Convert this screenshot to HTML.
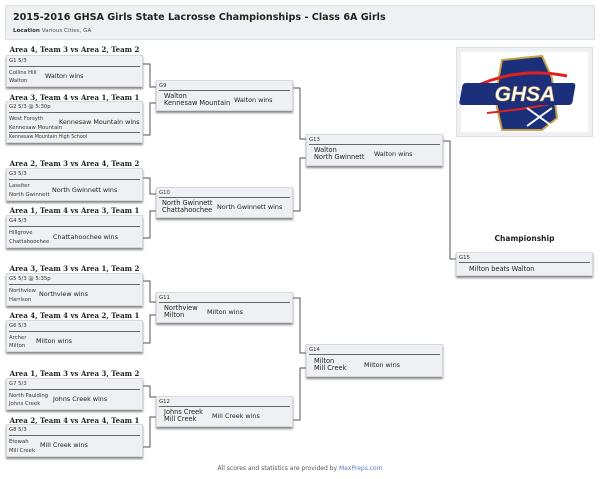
<!DOCTYPE html>
<html><head><meta charset="utf-8"><style>
*{margin:0;padding:0;box-sizing:border-box}
body{width:600px;height:479px;background:#fff;font-family:"DejaVu Sans","Liberation Sans",sans-serif;position:relative;overflow:hidden;color:#111}
.hdr{position:absolute;left:5px;top:5px;width:590px;height:35px;background:#eef0f3;border:1px solid #dde0e4}
.hdr h1{position:absolute;left:7px;top:6px;font-size:9.6px;font-weight:bold;color:#222;white-space:nowrap}
.hdr p{position:absolute;left:7px;top:22px;font-size:5.6px;color:#555}
.hdr p b{color:#333}
.hd{position:absolute;width:137px;text-align:center;font-family:"DejaVu Serif","Liberation Serif",serif;font-weight:bold;font-size:7px;color:#222;white-space:nowrap}
.b{position:absolute;width:137px;background:#eef0f3;border:1px solid #d6d9de;box-shadow:0 2px 2px #888}
.lb{position:absolute;left:2px;top:2px;font-size:5.3px;color:#333}
.sep{position:absolute;left:2px;right:2px;height:1px;background:#666}
.t{position:absolute;left:2px;font-size:5.3px;color:#333;white-space:nowrap}
.w{position:absolute;font-size:6.4px;color:#222;white-space:nowrap}
.t2{position:absolute;left:7px;font-size:6.6px;line-height:7px;color:#222;white-space:nowrap}
svg{position:absolute;left:0;top:0}
</style></head><body>
<div class="hdr"><h1>2015-2016 GHSA Girls State Lacrosse Championships - Class 6A Girls</h1><p><b>Location</b> Various Cities, GA</p></div>

<svg width="600" height="479"><g fill="none" stroke="#555" stroke-width="1">
<path d="M143 64H150V87H156"/><path d="M143 135H150V103H156"/>
<path d="M143 178H150V194H156"/><path d="M143 238H150V211H156"/>
<path d="M143 281H150V302H156"/><path d="M143 343H150V315H156"/>
<path d="M143 386H150V397H156"/><path d="M143 447H150V417H156"/>
<path d="M293 88H300V139H306"/><path d="M293 211H300V158H306"/>
<path d="M293 298H300V353H306"/><path d="M293 420H300V368H306"/>
<path d="M443 141H450V259H456"/>
</g></svg>

<div class="hd" style="left:6px;top:45px">Area 4, Team 3 vs Area 2, Team 2</div>
<div class="b" style="left:6px;top:55px;height:32px"><div class="lb">G1 5/3</div><div class="sep" style="top:10px"></div><div class="t" style="top:14px">Collins Hill</div><div class="t" style="top:22px">Walton</div><div class="w" style="left:38px;top:16px">Walton wins</div></div>

<div class="hd" style="left:6px;top:93px">Area 3, Team 4 vs Area 1, Team 1</div>
<div class="b" style="left:6px;top:101px;height:42px"><div class="lb">G2 5/3 @ 5:30p</div><div class="sep" style="top:10px"></div><div class="t" style="top:14px">West Forsyth</div><div class="t" style="top:23px">Kennesaw Mountain</div><div class="w" style="left:52px;top:16px">Kennesaw Mountain wins</div><div class="sep" style="top:30px"></div><div class="t" style="top:33px;font-size:4.8px">Kennesaw Mountain High School</div></div>

<div class="hd" style="left:6px;top:159px">Area 2, Team 3 vs Area 4, Team 2</div>
<div class="b" style="left:6px;top:168px;height:33px"><div class="lb">G3 5/3</div><div class="sep" style="top:10px"></div><div class="t" style="top:14px">Lassiter</div><div class="t" style="top:23px">North Gwinnett</div><div class="w" style="left:45px;top:17px">North Gwinnett wins</div></div>

<div class="hd" style="left:6px;top:206px">Area 1, Team 4 vs Area 3, Team 1</div>
<div class="b" style="left:6px;top:215px;height:33px"><div class="lb">G4 5/3</div><div class="sep" style="top:10px"></div><div class="t" style="top:14px">Hillgrove</div><div class="t" style="top:23px">Chattahoochee</div><div class="w" style="left:46px;top:17px">Chattahoochee wins</div></div>

<div class="hd" style="left:6px;top:264px">Area 3, Team 3 vs Area 1, Team 2</div>
<div class="b" style="left:6px;top:273px;height:33px"><div class="lb">G5 5/3 @ 5:35p</div><div class="sep" style="top:10px"></div><div class="t" style="top:14px">Northview</div><div class="t" style="top:23px">Harrison</div><div class="w" style="left:32px;top:16px">Northview wins</div></div>

<div class="hd" style="left:6px;top:311px">Area 4, Team 4 vs Area 2, Team 1</div>
<div class="b" style="left:6px;top:320px;height:32px"><div class="lb">G6 5/3</div><div class="sep" style="top:10px"></div><div class="t" style="top:14px">Archer</div><div class="t" style="top:22px">Milton</div><div class="w" style="left:29px;top:16px">Milton wins</div></div>

<div class="hd" style="left:6px;top:369px">Area 1, Team 3 vs Area 3, Team 2</div>
<div class="b" style="left:6px;top:378px;height:32px"><div class="lb">G7 5/3</div><div class="sep" style="top:10px"></div><div class="t" style="top:14px">North Paulding</div><div class="t" style="top:22px">Johns Creek</div><div class="w" style="left:46px;top:16px">Johns Creek wins</div></div>

<div class="hd" style="left:6px;top:416px">Area 2, Team 4 vs Area 4, Team 1</div>
<div class="b" style="left:6px;top:424px;height:33px"><div class="lb">G8 5/3</div><div class="sep" style="top:10px"></div><div class="t" style="top:14px">Etowah</div><div class="t" style="top:23px">Mill Creek</div><div class="w" style="left:33px;top:16px">Mill Creek wins</div></div>

<div class="b" style="left:156px;top:80px;height:31px"><div class="lb">G9</div><div class="sep" style="top:9px"></div><div class="t2" style="top:12px">Walton<br>Kennesaw Mountain</div><div class="w" style="left:77px;top:15px">Walton wins</div></div>
<div class="b" style="left:156px;top:187px;height:31px"><div class="lb">G10</div><div class="sep" style="top:9px"></div><div class="t2" style="top:12px;left:5px">North Gwinnett<br>Chattahoochee</div><div class="w" style="left:60px;top:15px">North Gwinnett wins</div></div>
<div class="b" style="left:156px;top:292px;height:31px"><div class="lb">G11</div><div class="sep" style="top:9px"></div><div class="t2" style="top:12px">Northview<br>Milton</div><div class="w" style="left:50px;top:15px">Milton wins</div></div>
<div class="b" style="left:156px;top:396px;height:31px"><div class="lb">G12</div><div class="sep" style="top:9px"></div><div class="t2" style="top:12px">Johns Creek<br>Mill Creek</div><div class="w" style="left:55px;top:15px">Mill Creek wins</div></div>

<div class="b" style="left:306px;top:134px;height:32px"><div class="lb">G13</div><div class="sep" style="top:9px"></div><div class="t2" style="top:12px">Walton<br>North Gwinnett</div><div class="w" style="left:67px;top:15px">Walton wins</div></div>
<div class="b" style="left:306px;top:344px;height:33px"><div class="lb">G14</div><div class="sep" style="top:9px"></div><div class="t2" style="top:13px">Milton<br>Mill Creek</div><div class="w" style="left:57px;top:16px">Milton wins</div></div>

<div class="hd" style="left:456px;top:234px;font-family:'DejaVu Sans',sans-serif;font-size:7.5px">Championship</div>
<div class="b" style="left:456px;top:252px;height:24px"><div class="lb">G15</div><div class="sep" style="top:9px"></div><div class="w" style="left:12px;top:12px;font-size:6.6px">Milton beats Walton</div></div>

<div style="position:absolute;left:456px;top:47px;width:137px;height:90px;background:#eef0f3;border:1px solid #dde0e4">
<div style="position:absolute;left:4px;top:4px;width:127px;height:80px;background:#fff"></div>
<svg width="137" height="90" style="left:0;top:0">
<path d="M45 12L85 8L95 30L100 70L85 82L45 82L38 50Z" fill="#1b2f7a" stroke="#c8a24a" stroke-width="2"/>
<path d="M15 40Q60 18 110 28" stroke="#d22" stroke-width="3" fill="none"/>
<path d="M30 65Q80 60 110 52" stroke="#d22" stroke-width="2" fill="none"/>
<rect x="12" y="35" width="113" height="22" fill="#1b2f7a" rx="3" transform="skewX(-10)"/>
<text x="68" y="53" text-anchor="middle" font-family="Liberation Sans" font-weight="bold" font-style="italic" font-size="21" fill="#fff" stroke="#c8a24a" stroke-width="0.6">GHSA</text>
<path d="M70 60L95 78M95 60L70 78" stroke="#fff" stroke-width="2"/>
</svg></div>

<div style="position:absolute;left:0;width:600px;top:465px;text-align:center;font-size:6px;color:#555">All scores and statistics are provided by <span style="color:#5b7fb5">MaxPreps.com</span></div>
</body></html>
